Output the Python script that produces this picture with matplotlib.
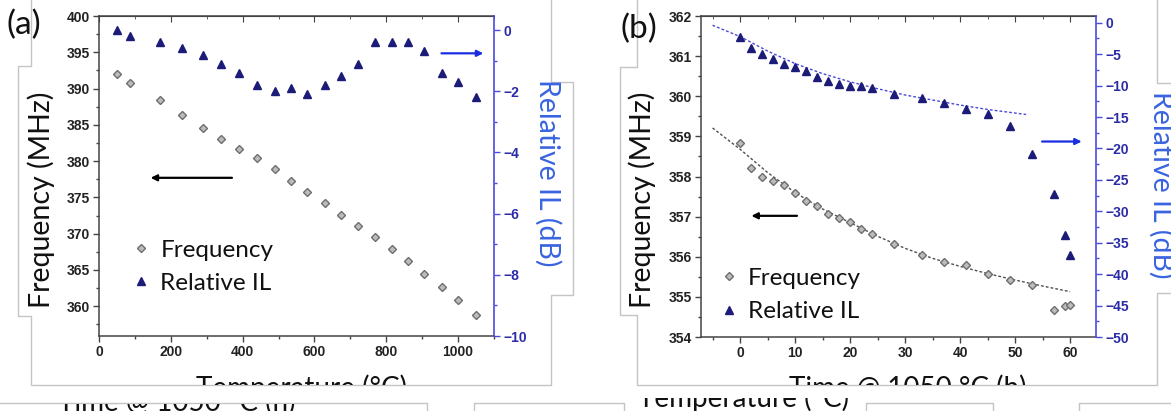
import matplotlib
matplotlib.use("Agg")
import matplotlib.pyplot as plt
from matplotlib.lines import Line2D
from matplotlib.ticker import MultipleLocator
from matplotlib.transforms import Bbox, TransformedBbox

# ---- panel (a): frequency / relative IL vs temperature ----
temp_c = [50, 85, 170, 230, 290, 340, 390, 440, 490, 535, 580,
          630, 675, 720, 770, 815, 860, 905, 955, 1000, 1050]
freq_a = [392.0, 390.8, 388.4, 386.3, 384.6, 383.1, 381.7, 380.4, 378.9, 377.3, 375.8,
          374.2, 372.6, 371.0, 369.5, 367.9, 366.2, 364.4, 362.7, 360.9, 358.8]
il_a = [0.0, -0.2, -0.4, -0.6, -0.8, -1.1, -1.4, -1.8, -2.0, -1.9, -2.1,
        -1.8, -1.5, -1.1, -0.4, -0.4, -0.4, -0.7, -1.4, -1.7, -2.2]

# ---- panel (b): frequency / relative IL vs time at 1050 C ----
time_h = [0, 2, 4, 6, 8, 10, 12, 14, 16, 18, 20, 22, 24,
          28, 33, 37, 41, 45, 49, 53, 57, 59, 60]
freq_b = [358.83, 358.20, 358.00, 357.90, 357.78, 357.58, 357.39, 357.26, 357.06, 356.96,
          356.86, 356.68, 356.56, 356.32, 356.04, 355.86, 355.80, 355.56, 355.42, 355.29,
          354.67, 354.77, 354.80]
il_b = [-2.2, -4.0, -5.0, -5.8, -6.5, -7.0, -7.7, -8.6, -9.3, -9.7, -10.0, -10.1, -10.4,
        -11.4, -11.9, -12.7, -13.7, -14.6, -16.5, -20.9, -27.3, -33.8, -37.0]

# fitted trend lines
fit_freq_t = [-5, 0, 5, 10, 15, 20, 25, 30, 35, 40, 45, 50, 55, 60]
fit_freq = [359.21, 358.68, 358.10, 357.60, 357.19, 356.85, 356.51, 356.21,
            355.96, 355.76, 355.58, 355.42, 355.27, 355.13]
fit_il_t = [-5, 0, 5, 10, 15, 20, 25, 30, 35, 40, 45, 52]
fit_il = [-0.4, -2.2, -4.5, -6.5, -8.1, -9.4, -10.5, -11.5, -12.3, -13.1, -13.8, -14.6]

W, H = 1171, 411
plt.rcParams["font.family"] = ["Liberation Sans", "DejaVu Sans"]
plt.rcParams["font.weight"] = "bold"

GRAY_FACE = "#bcbcbc"
GRAY_EDGE = "#6e6e6e"
NAVY = "#1c1c78"
RIGHT_BLUE = "#2b2ba8"
SPINE_BLUE = "#4a4ae0"
LABEL_BLUE = "#3a64e0"
TEXT_COL = "#111111"
LABEL_FONT = dict(family=["Lato", "DejaVu Sans"], weight="normal")

fig = plt.figure(figsize=(W / 100, H / 100), dpi=100)


def fx(x):
    return x / W


def fy(y):
    return 1 - y / H


def gray_line(xs, ys):
    fig.add_artist(Line2D([fx(v) for v in xs], [fy(v) for v in ys],
                          transform=fig.transFigure, color="#c4c4c4", lw=1, zorder=0))


def clipped_text(x, y, s, clip, size=20):
    t = fig.text(fx(x), fy(y), s, ha="center", va="baseline", fontsize=size,
                 color=TEXT_COL, **LABEL_FONT)
    x0, y0, x1, y1 = clip
    t.set_clip_box(TransformedBbox(Bbox.from_extents(fx(x0), fy(y1), fx(x1), fy(y0)),
                                   fig.transFigure))
    t.set_clip_on(True)
    return t


def make_panel(left, top, right, bottom):
    ax = fig.add_axes([fx(left), fy(bottom), fx(right - left), (bottom - top) / H])
    axr = ax.twinx()
    for s in ["left", "bottom", "top"]:
        ax.spines[s].set_color("#444444")
        ax.spines[s].set_linewidth(1.1)
    axr.spines["right"].set_color(SPINE_BLUE)
    axr.spines["right"].set_linewidth(1.2)
    for s in ["left", "bottom", "top"]:
        axr.spines[s].set_visible(False)
    ax.spines["right"].set_visible(False)
    ax.tick_params(axis="both", which="both", direction="out", labelsize=10,
                   color="#444444", labelcolor="#222222", width=1)
    ax.tick_params(which="major", length=4, pad=2.5)
    ax.tick_params(which="minor", length=2.5)
    axr.tick_params(axis="y", which="both", direction="out", labelsize=10,
                    color=SPINE_BLUE, labelcolor=RIGHT_BLUE, width=1)
    axr.tick_params(which="major", length=4, pad=3)
    axr.tick_params(which="minor", length=2.5)
    return ax, axr


def top_ticks(ax, major, minor):
    sec = ax.secondary_xaxis("top")
    sec.xaxis.set_major_locator(MultipleLocator(major))
    sec.xaxis.set_minor_locator(MultipleLocator(minor))
    sec.tick_params(which="both", direction="in", labeltop=False, color="#444444")
    sec.tick_params(which="major", length=4)
    sec.tick_params(which="minor", length=2.5)
    sec.spines["top"].set_color("#444444")


def bold_ticks(*axes):
    for a in axes:
        for lbl in a.get_xticklabels() + a.get_yticklabels():
            lbl.set_fontweight("bold")


# ---------------- panel (a) ----------------
ax1, ax1r = make_panel(99, 16, 494, 336)
ax1.set_xlim(0, 1100)
ax1.set_ylim(355.9, 400)
ax1r.set_ylim(-10, 0.46)
ax1.xaxis.set_major_locator(MultipleLocator(200))
ax1.xaxis.set_minor_locator(MultipleLocator(100))
ax1.yaxis.set_major_locator(MultipleLocator(5))
ax1.yaxis.set_minor_locator(MultipleLocator(2.5))
ax1r.yaxis.set_major_locator(MultipleLocator(2))
ax1r.yaxis.set_minor_locator(MultipleLocator(1))
top_ticks(ax1, 200, 100)

h1, = ax1.plot(temp_c, freq_a, ls="none", marker="D", ms=4.4, mfc=GRAY_FACE,
               mec=GRAY_EDGE, mew=1, label="Frequency")
h2, = ax1r.plot(temp_c, il_a, ls="none", marker="^", ms=5.5, color=NAVY,
                label="Relative IL")
ax1.annotate("", xy=(136, 377.7), xytext=(378, 377.7),
             arrowprops=dict(arrowstyle="-|>", color="black", lw=1.6, mutation_scale=9))
ax1r.annotate("", xy=(1078, -0.76), xytext=(946, -0.76),
              arrowprops=dict(arrowstyle="-|>", color="#1a2ee0", lw=1.6, mutation_scale=9))
ax1r.legend([h1, h2], ["Frequency", "Relative IL"], loc="center left",
            bbox_to_anchor=(0.094, 0.216), frameon=False, handlelength=0.4,
            handletextpad=0.6, labelspacing=0.5, borderpad=0, borderaxespad=0,
            labelcolor=TEXT_COL, prop=dict(family="Lato", size=17.5, weight="normal"))

# ---------------- panel (b) ----------------
ax2, ax2r = make_panel(701, 16, 1096, 337)
ax2.set_xlim(-7.1, 64.7)
ax2.set_ylim(354, 362)
ax2r.set_ylim(-50, 1.07)
ax2.xaxis.set_major_locator(MultipleLocator(10))
ax2.xaxis.set_minor_locator(MultipleLocator(5))
ax2.yaxis.set_major_locator(MultipleLocator(1))
ax2.yaxis.set_minor_locator(MultipleLocator(0.5))
ax2r.yaxis.set_major_locator(MultipleLocator(5))
ax2r.yaxis.set_minor_locator(MultipleLocator(2.5))
top_ticks(ax2, 10, 5)

ax2.plot(fit_freq_t, fit_freq, ls=(0, (2, 1.5)), lw=1, color="#505050")
ax2r.plot(fit_il_t, fit_il, ls=(0, (2, 1.5)), lw=1, color="#4a4ad8")
g1, = ax2.plot(time_h, freq_b, ls="none", marker="D", ms=4.4, mfc=GRAY_FACE,
               mec=GRAY_EDGE, mew=1, label="Frequency")
g2, = ax2r.plot(time_h, il_b, ls="none", marker="^", ms=5.5, color=NAVY,
                label="Relative IL")
ax2.annotate("", xy=(1.55, 357.02), xytext=(10.85, 357.02),
             arrowprops=dict(arrowstyle="-|>", color="black", lw=1.6, mutation_scale=9))
ax2r.annotate("", xy=(62.6, -18.9), xytext=(54.4, -18.9),
              arrowprops=dict(arrowstyle="-|>", color="#1a2ee0", lw=1.6, mutation_scale=9))
ax2r.legend([g1, g2], ["Frequency", "Relative IL"], loc="center left",
            bbox_to_anchor=(0.058, 0.131), frameon=False, handlelength=0.4,
            handletextpad=0.6, labelspacing=0.5, borderpad=0, borderaxespad=0,
            labelcolor=TEXT_COL, prop=dict(family="Lato", size=17.5, weight="normal"))

bold_ticks(ax1, ax1r, ax2, ax2r)

# ---------------- labels ----------------
fig.text(fx(41), fy(200), "Frequency (MHz)", rotation=90, ha="center", va="center",
         fontsize=20.5, color=TEXT_COL, **LABEL_FONT)
fig.text(fx(548), fy(173), "Relative IL (dB)", rotation=-90, ha="center", va="center",
         fontsize=20.5, color=LABEL_BLUE, **LABEL_FONT)
fig.text(fx(642), fy(200), "Frequency (MHz)", rotation=90, ha="center", va="center",
         fontsize=20.5, color=TEXT_COL, **LABEL_FONT)
fig.text(fx(1162), fy(185), "Relative IL (dB)", rotation=-90, ha="center", va="center",
         fontsize=20.5, color=LABEL_BLUE, **LABEL_FONT)
fig.text(fx(6), fy(10), "(a)", ha="left", va="top", fontsize=24, color=TEXT_COL, **LABEL_FONT)
fig.text(fx(621), fy(14), "(b)", ha="left", va="top", fontsize=24, color=TEXT_COL, **LABEL_FONT)

# x labels cut off by the frame of the screenshot
clipped_text(302, 397, "Temperature (°C)", (0, 0, 560, 385))
clipped_text(908, 397, "Time @ 1050 °C (h)", (600, 0, 1171, 385))
clipped_text(177, 411, "Time @ 1050 °C (h)", (0, 404, 470, 411))
clipped_text(743, 407, "Temperature (°C)", (630, 398, 860, 411))

# ---------------- screenshot frame lines ----------------
gray_line([31, 31, 18, 18, 31, 31, 551, 551, 573, 573, 551, 551],
          [0, 66, 66, 316, 316, 385, 385, 295, 295, 82, 82, 0])
gray_line([637, 637, 620, 620, 637, 637, 1157, 1157, 1175],
          [0, 67, 67, 315, 315, 385, 385, 293, 293])
gray_line([1175, 1157, 1157], [83, 83, 0])
gray_line([0, 427, 427], [403, 403, 412])
gray_line([474, 474, 624, 624], [412, 403, 403, 412])
gray_line([866, 866, 993, 993], [412, 403, 403, 412])
gray_line([1079, 1079, 1175], [412, 403, 403])

fig.savefig("out.png", dpi=100)
